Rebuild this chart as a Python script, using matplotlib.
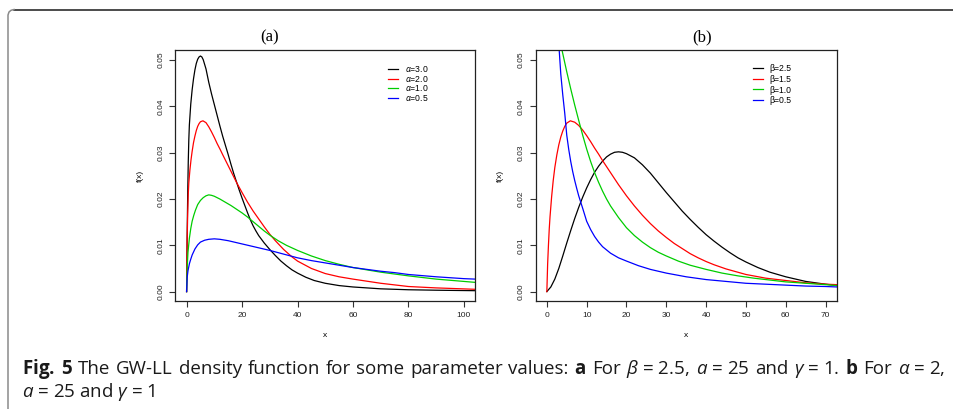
import matplotlib
matplotlib.use("Agg")
import matplotlib.pyplot as plt
from matplotlib import font_manager
from matplotlib.lines import Line2D

# ---------------------------------------------------------------------------
#  DATA
# ---------------------------------------------------------------------------
# panel (a): beta = 2.5, a = 25, gamma = 1
a_labels = [r'$\alpha$=3.0', r'$\alpha$=2.0', r'$\alpha$=1.0', r'$\alpha$=0.5']

a_x_30 = [0, 0.2, 0.4, 0.6, 0.8, 1.0, 1.5, 2.0, 2.5, 3.0, 3.5, 4.0, 4.5, 5.0, 5.5, 6, 7, 8,
          9, 10, 11, 12, 13, 14, 15, 16, 17, 18, 19, 20, 21, 22, 23, 24, 25, 26, 27, 28,
          29, 30, 32, 34, 36, 38, 40, 43, 46, 50, 55, 60, 70, 80, 90, 104]
a_y_30 = [0, 0.012, 0.021, 0.028, 0.0328, 0.0360, 0.0405, 0.0436, 0.0460, 0.0479, 0.0493,
          0.0502, 0.0507, 0.0509, 0.0507, 0.0501, 0.0481, 0.0452, 0.0427, 0.0404, 0.0381,
          0.0358, 0.0336, 0.0316, 0.0296, 0.0275, 0.0255, 0.0237, 0.0219, 0.0202, 0.0186,
          0.0170, 0.0155, 0.0142, 0.0131, 0.0121, 0.0113, 0.0105, 0.0098, 0.0091, 0.0078,
          0.0066, 0.0056, 0.0047, 0.0040, 0.0031, 0.0024, 0.0018, 0.0013, 0.0010, 0.0006,
          0.0004, 0.0003, 0.0002]

a_x_20 = [0, 0.2, 0.4, 0.6, 0.8, 1.2, 1.6, 2, 2.5, 3, 3.5, 4, 4.5, 5, 5.9, 7, 8, 9, 10,
          11, 12.2, 13, 14, 15, 16, 17, 18, 19, 20, 22, 24, 26, 28, 30, 32, 35, 38, 40, 45,
          50, 55, 60, 70, 80, 90, 104]
a_y_20 = [0, 0.011, 0.017, 0.021, 0.0235, 0.0263, 0.0285, 0.0303, 0.0322, 0.0336, 0.0348,
          0.0357, 0.0363, 0.0367, 0.0369, 0.0365, 0.0356, 0.0345, 0.0333, 0.0320, 0.0306,
          0.0296, 0.0284, 0.0272, 0.0260, 0.0248, 0.0236, 0.0225, 0.0214, 0.0193, 0.0174,
          0.0157, 0.0140, 0.0124, 0.0110, 0.0091, 0.0075, 0.0066, 0.0050, 0.0039, 0.0032,
          0.0027, 0.0018, 0.0011, 0.0008, 0.0005]

a_x_10 = [0, 0.2, 0.5, 1, 1.5, 2, 2.6, 3.2, 4, 5, 6, 7, 8, 9, 10, 12, 14, 16, 18, 20, 22,
          24, 26, 28, 30, 33, 36, 40, 45, 50, 55, 60, 65, 70, 75, 80, 90, 100, 104]
a_y_10 = [0, 0.005, 0.0085, 0.0115, 0.0136, 0.0152, 0.0165, 0.0176, 0.0188, 0.0197, 0.0203,
          0.0207, 0.0209, 0.0208, 0.0206, 0.0200, 0.0193, 0.0186, 0.0178, 0.0170, 0.0161,
          0.0151, 0.0141, 0.0131, 0.0122, 0.0110, 0.0100, 0.0089, 0.0077, 0.0067, 0.0059,
          0.0052, 0.0047, 0.0042, 0.0038, 0.0034, 0.0027, 0.0022, 0.0020]

a_x_05 = [0, 0.2, 0.5, 1, 1.5, 2, 3, 4, 5, 6.5, 8, 10, 12, 15, 20, 25, 30, 35, 40, 45, 50,
          55, 60, 65, 70, 75, 80, 90, 100, 104]
a_y_05 = [0, 0.003, 0.0045, 0.0060, 0.0070, 0.0079, 0.0092, 0.0101, 0.0107, 0.0111, 0.0113,
          0.0114, 0.0113, 0.0110, 0.0103, 0.0096, 0.0089, 0.0081, 0.0073, 0.0067, 0.0062,
          0.0057, 0.0052, 0.0048, 0.0044, 0.0041, 0.0037, 0.0032, 0.0028, 0.0027]

# panel (b): alpha = 2, a = 25, gamma = 1
b_labels = ['\u03b2=2.5', '\u03b2=1.5', '\u03b2=1.0', '\u03b2=0.5']

b_x_25 = [0, 1, 2, 3, 4, 5, 6, 7, 8, 9, 10, 11, 12, 13, 14, 15, 16, 17, 18, 19, 20, 22, 24,
          26, 28, 30, 32, 34, 36, 38, 40, 42, 44, 46, 48, 50, 53, 56, 60, 65, 70, 73]
b_y_25 = [0, 0.0010, 0.0027, 0.0050, 0.0077, 0.0105, 0.0132, 0.0158, 0.0182, 0.0204,
          0.0224, 0.0242, 0.0258, 0.0271, 0.0282, 0.0291, 0.0297, 0.0301, 0.0302, 0.0301,
          0.0298, 0.0289, 0.0274, 0.0256, 0.0235, 0.0214, 0.0194, 0.0174, 0.0156, 0.0139,
          0.0123, 0.0109, 0.0096, 0.0084, 0.0073, 0.0064, 0.0052, 0.0042, 0.0032, 0.0022,
          0.0016, 0.0013]

b_x_15 = [0, 0.2, 0.4, 0.6, 0.8, 1.2, 1.6, 2, 2.5, 3, 3.5, 4, 4.5, 5, 5.9, 7, 8, 9, 10, 11,
          12, 13, 14, 15, 16, 17, 18, 20, 22, 24, 26, 28, 30, 32, 34, 36, 38, 40, 42, 45,
          50, 55, 60, 65, 70, 73]
b_y_15 = [0, 0.006, 0.010, 0.0135, 0.0162, 0.0205, 0.0240, 0.0268, 0.0295, 0.0317, 0.0334,
          0.0347, 0.0357, 0.0364, 0.0369, 0.0366, 0.0359, 0.0349, 0.0337, 0.0324, 0.0310,
          0.0297, 0.0283, 0.0270, 0.0257, 0.0244, 0.0231, 0.0207, 0.0185, 0.0165, 0.0147,
          0.0131, 0.0117, 0.0104, 0.0093, 0.0082, 0.0073, 0.0065, 0.0058, 0.0049, 0.0037,
          0.0029, 0.0024, 0.0019, 0.0016, 0.0015]

b_x_10 = [2.6, 3.0, 3.8, 5, 6, 7, 8, 9, 10, 11, 12, 13, 14, 15, 16, 18, 20, 22, 24, 26, 28,
          30, 33, 36, 40, 44, 48, 52, 56, 60, 65, 70, 73]
b_y_10 = [0.068, 0.062, 0.0522, 0.0475, 0.0438, 0.0403, 0.0370, 0.0338, 0.0308, 0.0281,
          0.0257, 0.0236, 0.0217, 0.0200, 0.0185, 0.0160, 0.0138, 0.0121, 0.0107, 0.0095,
          0.0085, 0.0077, 0.0066, 0.0057, 0.0048, 0.0040, 0.0034, 0.0029, 0.0025, 0.0021,
          0.0018, 0.0015, 0.0013]

b_x_05 = [2.5, 3.1, 3.5, 4, 4.5, 5, 5.5, 6, 6.5, 7, 7.5, 8, 9, 10, 11, 12, 13, 14, 16, 18,
          20, 23, 26, 30, 35, 40, 45, 50, 55, 60, 65, 70, 73]
b_y_05 = [0.065, 0.0522, 0.0470, 0.0425, 0.0385, 0.0338, 0.0307, 0.0281, 0.0259, 0.0240,
          0.0223, 0.0207, 0.0180, 0.0152, 0.0134, 0.0119, 0.0107, 0.0097, 0.0083, 0.0073,
          0.0066, 0.0056, 0.0048, 0.0040, 0.0032, 0.0026, 0.0022, 0.0018, 0.0016, 0.0014,
          0.0012, 0.0011, 0.0010]

a_xticks = [0, 20, 40, 60, 80, 100]
b_xticks = [0, 10, 20, 30, 40, 50, 60, 70]
yticks = [0.00, 0.01, 0.02, 0.03, 0.04, 0.05]

# caption, first line is justified word by word
caption_1 = [r'$\mathbf{Fig.}$', r'$\mathbf{5}$', 'The', 'GW-LL', 'density', 'function',
             'for', 'some', 'parameter', 'values:', r'$\mathbf{a}$', 'For',
             r'$\beta$ = 2.5,', r'$a$ = 25', 'and', r'$\gamma$ = 1.', r'$\mathbf{b}$',
             'For', r'$\alpha$ = 2,']
caption_2 = r'$a$ = 25 and $\gamma$ = 1'

# ---------------------------------------------------------------------------
#  STYLE
# ---------------------------------------------------------------------------
line_colors = ['black', '#FF0000', '#00CD00', '#0000FF']
W, H = 954, 409

installed = {f.name for f in font_manager.fontManager.ttflist}
cap_font = 'Open Sans' if 'Open Sans' in installed else 'DejaVu Sans'
cap_size = 13.5

plt.rcParams['font.family'] = ['Liberation Sans', 'DejaVu Sans']
plt.rcParams['mathtext.fontset'] = 'custom'
plt.rcParams['mathtext.rm'] = cap_font
plt.rcParams['mathtext.it'] = cap_font + ':italic'
plt.rcParams['mathtext.bf'] = cap_font + ':bold'


def px_box(left, top, right, bottom):
    return [left / W, 1 - bottom / H, (right - left) / W, (bottom - top) / H]


def style_axes(axis, xticks, xlim):
    axis.set_xlim(*xlim)
    axis.set_ylim(-0.00203, 0.0522)
    axis.set_xticks(xticks)
    axis.set_yticks(yticks)
    axis.set_yticklabels(['%.2f' % v for v in yticks], rotation=90, va='center')
    axis.tick_params(direction='out', length=4, width=0.8, labelsize=6,
                     colors='#333333', labelcolor='#222222', pad=4)
    for side in axis.spines.values():
        side.set_linewidth(0.9)
        side.set_color('#222222')
    axis.set_xlabel('x', fontsize=6, labelpad=9)
    axis.set_ylabel('f(x)', fontsize=6, labelpad=10)


def add_legend(axis, x_anchor, spacing):
    axis.legend(loc='upper left', bbox_to_anchor=(x_anchor, 0.944), frameon=False,
                fontsize=6.2, handlelength=1.15, handletextpad=0.8, labelspacing=spacing,
                borderaxespad=0, borderpad=0)


fig = plt.figure(figsize=(W / 100, H / 100), dpi=100)

# ---------------------------------------------------------------------------
#  PANEL (a)
# ---------------------------------------------------------------------------
ax_a = fig.add_axes(px_box(175.5, 50, 475, 301))
series_a = [(a_x_30, a_y_30), (a_x_20, a_y_20), (a_x_10, a_y_10), (a_x_05, a_y_05)]
for (xs, ys), col, lab in zip(series_a, line_colors, a_labels):
    ax_a.plot(xs, ys, color=col, linewidth=0.9, label=lab)
style_axes(ax_a, a_xticks, (-4, 104))
add_legend(ax_a, 0.7095, -0.05)

# ---------------------------------------------------------------------------
#  PANEL (b)
# ---------------------------------------------------------------------------
ax_b = fig.add_axes(px_box(535.7, 50, 836.7, 301))
series_b = [(b_x_25, b_y_25), (b_x_15, b_y_15), (b_x_10, b_y_10), (b_x_05, b_y_05)]
for (xs, ys), col, lab in zip(series_b, line_colors, b_labels):
    ax_b.plot(xs, ys, color=col, linewidth=0.9, label=lab)
style_axes(ax_b, b_xticks, (-2.8, 72.8))
add_legend(ax_b, 0.721, 0.2)

# panel titles
fig.text(270 / W, 1 - 37 / H, '(a)', fontsize=12, family='Liberation Serif',
         ha='center', va='center')
fig.text(702 / W, 1 - 37 / H, '(b)', fontsize=12, family='Liberation Serif',
         ha='center', va='center')

# caption line 1, spread from x=22 to x=945 like justified text
renderer = fig.canvas.get_renderer()
words = [fig.text(0, 1 - 374 / H, w, fontsize=cap_size, family=cap_font,
                  ha='left', va='baseline', color='#1a1a1a') for w in caption_1]
widths = [w.get_window_extent(renderer).width for w in words]
gap = (945 - 22 - sum(widths)) / (len(words) - 1)
x_pos = 22
for w, wd in zip(words, widths):
    w.set_x(x_pos / W)
    x_pos += wd + gap

fig.text(22 / W, 1 - 397 / H, caption_2, fontsize=cap_size, family=cap_font,
         ha='left', va='baseline', color='#1a1a1a')

# page frame: dark rule on top, grey rule on the left with a rounded corner
fig.add_artist(Line2D([14 / W, 1], [1 - 9.5 / H] * 2, color='#1a1a1a', linewidth=1.1))
fig.add_artist(Line2D([8 / W, 8 / W, 9 / W, 11 / W, 14 / W],
                      [0, 1 - 15 / H, 1 - 12 / H, 1 - 10.3 / H, 1 - 9.5 / H],
                      color='#8a8a8a', linewidth=1.1))

fig.savefig('out.png', dpi=100)
